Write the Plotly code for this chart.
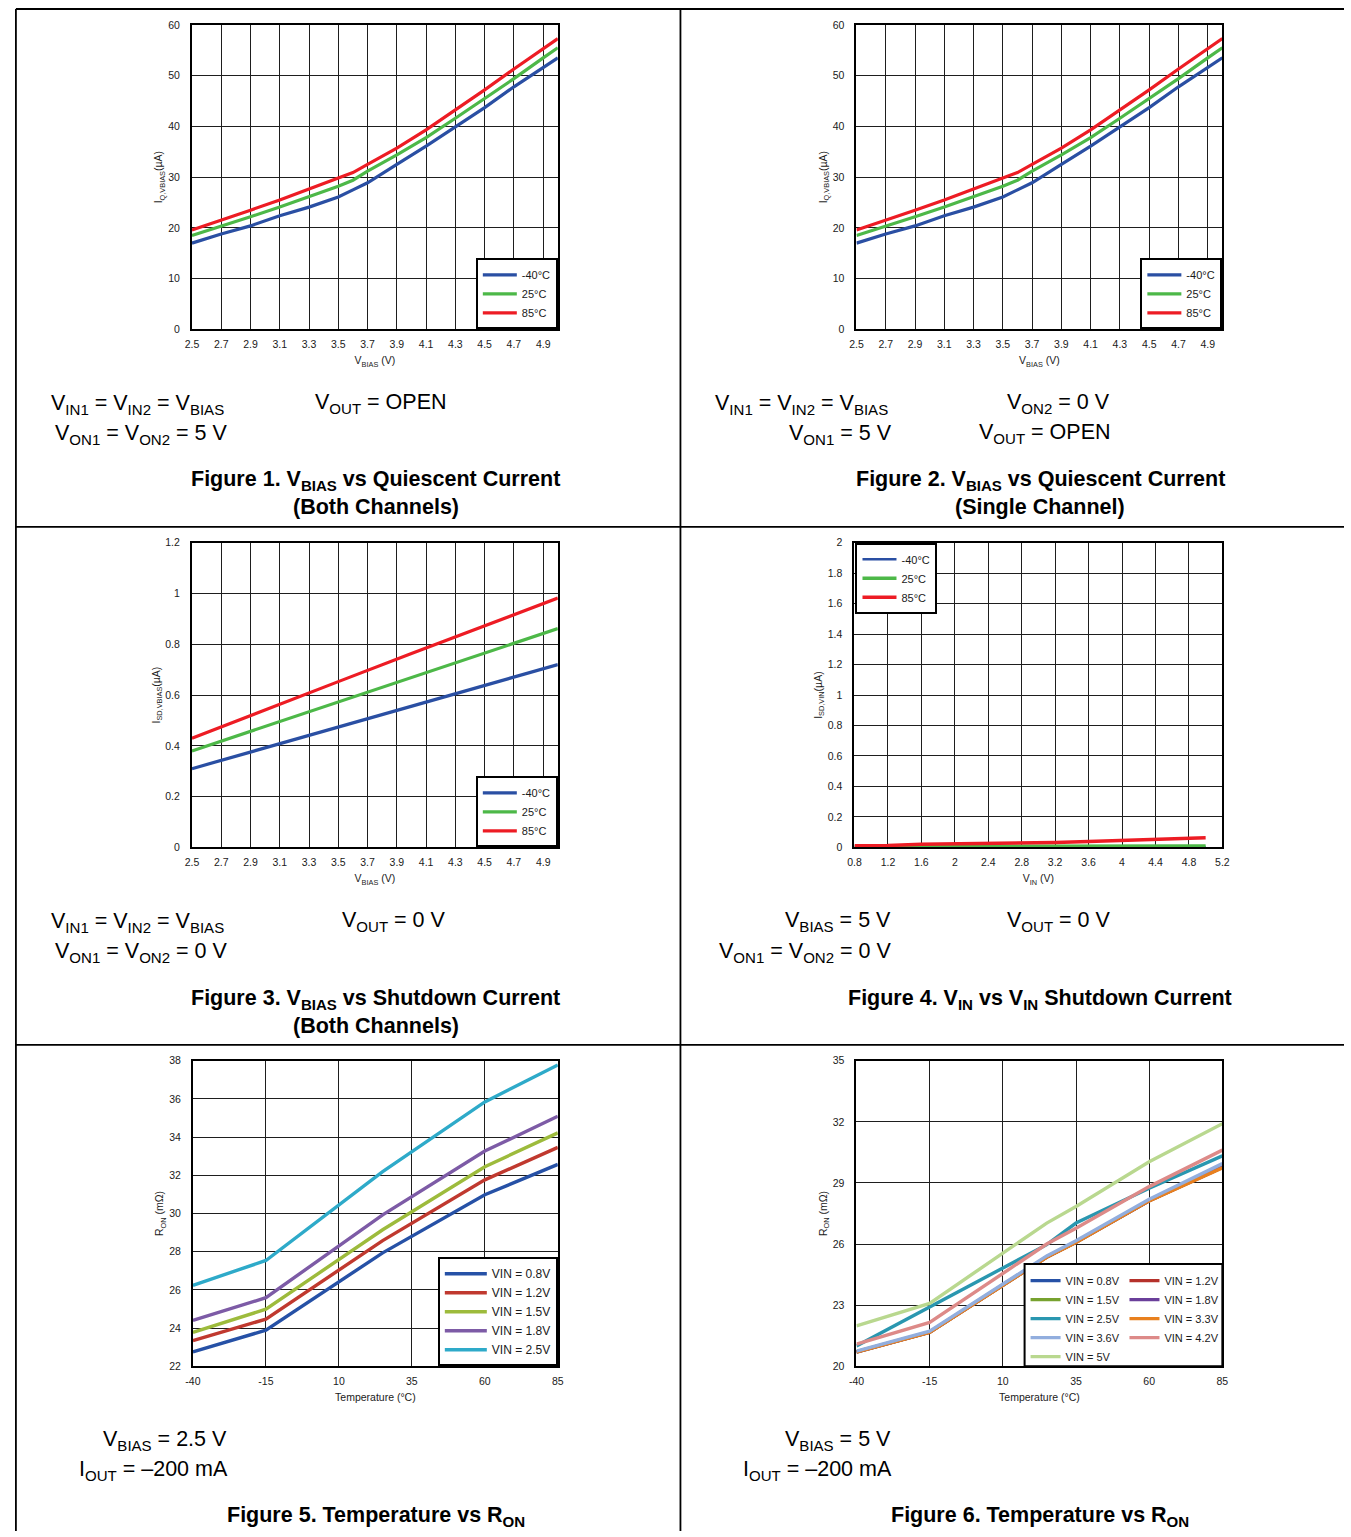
import plotly.graph_objects as go

W, H = 1351, 1537
FONT = "Liberation Sans, Arial, Helvetica, sans-serif"

# ---------------- data ----------------
temp_names = ["-40°C", "25°C", "85°C"]

# Figure 1 / Figure 2 : VBIAS vs quiescent current (uA)
vbias_q = [2.5, 2.7, 2.9, 3.1, 3.3, 3.5, 3.6, 3.7, 3.9, 4.1, 4.3, 4.5, 4.7, 4.9, 5.0]
iq_m40 = [17.0, 18.8, 20.4, 22.4, 24.1, 26.1, 27.5, 28.9, 32.5, 36.1, 39.9, 43.7, 47.8, 51.7, 53.5]
iq_25 = [18.5, 20.3, 22.2, 24.1, 26.1, 28.2, 29.4, 31.2, 34.4, 37.8, 41.6, 45.5, 49.4, 53.5, 55.5]
iq_85 = [19.6, 21.5, 23.5, 25.5, 27.6, 29.7, 30.9, 32.5, 35.7, 39.3, 43.2, 47.2, 51.3, 55.3, 57.3]

# Figure 3 : VBIAS vs shutdown current (uA)
vbias_sd = [2.5, 3.0, 3.5, 4.0, 4.5, 5.0]
isd_m40 = [0.31, 0.392, 0.474, 0.556, 0.638, 0.72]
isd_25 = [0.38, 0.476, 0.573, 0.669, 0.766, 0.862]
isd_85 = [0.43, 0.543, 0.653, 0.764, 0.873, 0.982]

# Figure 4 : VIN vs VIN shutdown current (uA)
vin_sd = [0.8, 1.2, 1.6, 2.0, 2.4, 2.8, 3.2, 3.6, 4.0, 4.4, 4.8, 5.0]
ivin_m40 = [0.002, 0.002, 0.002, 0.002, 0.002, 0.002, 0.002, 0.002, 0.003, 0.003, 0.003, 0.003]
ivin_25 = [0.005, 0.005, 0.006, 0.006, 0.006, 0.007, 0.007, 0.007, 0.008, 0.008, 0.009, 0.009]
ivin_85 = [0.010, 0.012, 0.020, 0.022, 0.024, 0.027, 0.032, 0.038, 0.045, 0.052, 0.060, 0.063]

# Figure 5 : temperature vs RON (mOhm), VBIAS = 2.5 V
temp5 = [-40, -15, 25, 60, 85]
ron5_names = ["VIN = 0.8V", "VIN = 1.2V", "VIN = 1.5V", "VIN = 1.8V", "VIN = 2.5V"]
ron5_0v8 = [22.76, 23.89, 27.94, 30.98, 32.57]
ron5_1v2 = [23.34, 24.47, 28.58, 31.76, 33.46]
ron5_1v5 = [23.77, 24.99, 29.15, 32.45, 34.22]
ron5_1v8 = [24.41, 25.59, 29.93, 33.27, 35.09]
ron5_2v5 = [26.24, 27.54, 32.19, 35.84, 37.78]

# Figure 6 : temperature vs RON (mOhm), VBIAS = 5 V
temp6 = [-40, -15, 25, 35, 60, 85]
ron6_names = ["VIN = 0.8V", "VIN = 1.2V", "VIN = 1.5V", "VIN = 1.8V", "VIN = 2.5V",
              "VIN = 3.3V", "VIN = 3.6V", "VIN = 4.2V", "VIN = 5V"]
ron6_0v8 = [20.70, 21.67, 25.36, 26.09, 28.13, 29.77]
ron6_1v2 = [20.71, 21.68, 25.36, 26.10, 28.13, 29.76]
ron6_1v5 = [20.72, 21.69, 25.38, 26.12, 28.15, 29.80]
ron6_1v8 = [20.71, 21.68, 25.37, 26.10, 28.14, 29.78]
ron6_2v5 = [21.00, 22.91, 25.97, 27.03, 28.74, 30.33]
ron6_3v3 = [20.70, 21.66, 25.35, 26.08, 28.12, 29.74]
ron6_3v6 = [20.75, 21.72, 25.42, 26.16, 28.20, 29.95]
ron6_4v2 = [21.09, 22.15, 26.00, 26.78, 28.82, 30.61]
ron6_5v0 = [21.98, 23.09, 27.03, 27.84, 30.04, 31.91]

temp_ticks = [-40, -15, 10, 35, 60, 85]
temp_ticktext = ["-40", "-15", "10", "35", "60", "85"]

# ---------------- styles ----------------
C_T = ["#2a4fa3", "#4db848", "#ed1c24"]
C5 = ["#2651a6", "#c0392f", "#9dbb3c", "#7d5ba6", "#2eaac9"]
C6 = ["#2651a6", "#b5312b", "#77a22f", "#6a3f9a", "#2a97b0",
      "#e8801e", "#92aede", "#dd8a88", "#b9d88f"]


def px(x):
    return x / W


def py(y):
    return 1 - y / H


fig = go.Figure()

for k, (ser, col) in enumerate(zip([iq_m40, iq_25, iq_85], C_T)):
    fig.add_trace(go.Scatter(x=vbias_q, y=ser, mode="lines", name=temp_names[k],
                             line=dict(color=col, width=3.2), xaxis="x", yaxis="y",
                             legend="legend", legendgroup="a%d" % k))
for k, (ser, col) in enumerate(zip([iq_m40, iq_25, iq_85], C_T)):
    fig.add_trace(go.Scatter(x=vbias_q, y=ser, mode="lines", name=temp_names[k],
                             line=dict(color=col, width=3.2), xaxis="x2", yaxis="y2",
                             legend="legend2", legendgroup="b%d" % k))
for k, (ser, col) in enumerate(zip([isd_m40, isd_25, isd_85], C_T)):
    fig.add_trace(go.Scatter(x=vbias_sd, y=ser, mode="lines", name=temp_names[k],
                             line=dict(color=col, width=3.2), xaxis="x3", yaxis="y3",
                             legend="legend3", legendgroup="c%d" % k))
for k, (ser, col) in enumerate(zip([ivin_m40, ivin_25, ivin_85], C_T)):
    w = 2.5 if k == 0 else 3.5
    fig.add_trace(go.Scatter(x=vin_sd, y=ser, mode="lines", name=temp_names[k],
                             line=dict(color=col, width=w), xaxis="x4", yaxis="y4",
                             legend="legend4", legendgroup="d%d" % k))
for k, ser in enumerate([ron5_0v8, ron5_1v2, ron5_1v5, ron5_1v8, ron5_2v5]):
    fig.add_trace(go.Scatter(x=temp5, y=ser, mode="lines", name=ron5_names[k],
                             line=dict(color=C5[k], width=3.4), xaxis="x5", yaxis="y5",
                             legend="legend5", legendgroup="e%d" % k))
ron6_all = [ron6_0v8, ron6_1v2, ron6_1v5, ron6_1v8, ron6_2v5, ron6_3v3, ron6_3v6, ron6_4v2, ron6_5v0]
col_a = {0, 2, 4, 6, 8}
for k, ser in enumerate(ron6_all):
    fig.add_trace(go.Scatter(x=temp6, y=ser, mode="lines", name=ron6_names[k],
                             line=dict(color=C6[k], width=3.4), xaxis="x6", yaxis="y6",
                             legend="legend6" if k in col_a else "legend7",
                             legendgroup="f%d" % k))


def axis_common(standoff):
    return dict(showline=True, linecolor="black", linewidth=2, mirror=True,
                showgrid=True, gridcolor="#1e1e1e", gridwidth=1, zeroline=False,
                ticks="", ticklabelstandoff=standoff,
                tickfont=dict(family=FONT, size=10.5, color="#1a1a1a"),
                title_font=dict(family=FONT, size=10.5, color="#1a1a1a"),
                fixedrange=True)


panels = [
    # (x0, x1, ytop, ybottom) in page pixels
    (186, 556, 19, 326),
    (858, 1228, 19, 326),
    (186, 556, 541, 848),
    (856, 1228, 541, 848),
    (187, 556, 1063, 1371),
    (858, 1228, 1063, 1371),
]

xspecs = [
    dict(range=[2.5, 5.0], tick0=2.5, dtick=0.2, title="V<sub>BIAS</sub> (V)"),
    dict(range=[2.5, 5.0], tick0=2.5, dtick=0.2, title="V<sub>BIAS</sub> (V)"),
    dict(range=[2.5, 5.0], tick0=2.5, dtick=0.2, title="V<sub>BIAS</sub> (V)"),
    dict(range=[0.8, 5.2], tick0=0.8, dtick=0.4, title="V<sub>IN</sub> (V)"),
    dict(range=[-40, 85], tickvals=temp_ticks, ticktext=temp_ticktext, title="Temperature (°C)"),
    dict(range=[-40, 85], tickvals=temp_ticks, ticktext=temp_ticktext, title="Temperature (°C)"),
]
yspecs = [
    dict(range=[0, 60], dtick=10, title="I<sub>Q,VBIAS</sub>(µA)"),
    dict(range=[0, 60], dtick=10, title="I<sub>Q,VBIAS</sub>(µA)"),
    dict(range=[0, 1.2], dtick=0.2, title="I<sub>SD,VBIAS</sub>(µA)"),
    dict(range=[0, 2], dtick=0.2, title="I<sub>SD,VIN</sub>(µA)"),
    dict(range=[22, 38], dtick=2, title="R<sub>ON</sub> (mΩ)"),
    dict(range=[20, 35], dtick=3, title="R<sub>ON</sub> (mΩ)"),
]

layout_axes = {}
for i, ((x0, x1, yt, yb), xs, ys) in enumerate(zip(panels, xspecs, yspecs)):
    n = "" if i == 0 else str(i + 1)
    xa = axis_common(4)
    xa.update(domain=[px(x0), px(x1)], anchor="y" + n, range=xs["range"],
              title=dict(text=xs["title"], standoff=8))
    if "tickvals" in xs:
        xa.update(tickmode="array", tickvals=xs["tickvals"], ticktext=xs["ticktext"])
    else:
        xa.update(tick0=xs["tick0"], dtick=xs["dtick"])
    ya = axis_common(8)
    ya.update(domain=[py(yb), py(yt)], anchor="x" + n, range=ys["range"],
              dtick=ys["dtick"], tick0=ys["range"][0],
              title=dict(text=ys["title"], standoff=3))
    layout_axes["xaxis" + n] = xa
    layout_axes["yaxis" + n] = ya


def legend_box(x, y, xanchor, yanchor, size, gap, border=True, itemwidth=30):
    return dict(x=x, y=y, xanchor=xanchor, yanchor=yanchor, xref="paper", yref="paper",
                font=dict(family=FONT, size=size, color="#1a1a1a"),
                itemwidth=itemwidth, tracegroupgap=gap, traceorder="normal",
                bgcolor="white" if border else "rgba(0,0,0,0)",
                bordercolor="black", borderwidth=2 if border else 0)


legends = dict(
    legend=legend_box(px(556), py(326), "right", "bottom", 11, 0, itemwidth=34),
    legend2=legend_box(px(1228), py(326), "right", "bottom", 11, 0, itemwidth=34),
    legend3=legend_box(px(556), py(848), "right", "bottom", 11, 0, itemwidth=34),
    legend4=legend_box(px(857), py(541), "left", "top", 11, 0, itemwidth=34),
    legend5=legend_box(px(556), py(1371), "right", "bottom", 12, 3, itemwidth=42),
    legend6=legend_box(px(1029), py(1270), "left", "top", 11, 0, border=False),
    legend7=legend_box(px(1129), py(1270), "left", "top", 11, 0, border=False),
)

shapes = []
# table frame
frame_lines = [
    (8, 3, 1351, 3), (8, 3, 8, 1537), (680, 3, 680, 1537),
    (8, 525, 1351, 525), (8, 1047, 1351, 1047),
]
for (xa_, ya_, xb_, yb_) in frame_lines:
    shapes.append(dict(type="line", xref="paper", yref="paper",
                       x0=px(xa_), y0=py(ya_), x1=px(xb_), y1=py(yb_),
                       line=dict(color="black", width=1.8)))
# legend box of figure 6 (shared by its two legend columns)
shapes.append(dict(type="rect", xref="paper", yref="paper", layer="above",
                   x0=px(1028), x1=px(1228), y0=py(1371), y1=py(1268),
                   fillcolor="white", line=dict(color="black", width=2)))

COND = 21.5
CAP = 21.5
texts = [
    # text, x, y, anchor, bold  (page pixels)
    ("V<sub>IN1</sub> = V<sub>IN2</sub> = V<sub>BIAS</sub>", 41, 402, "left", False),
    ("V<sub>ON1</sub> = V<sub>ON2</sub> = 5 V", 45, 432, "left", False),
    ("V<sub>OUT</sub> = OPEN", 308, 401, "left", False),
    ("Figure 1. V<sub>BIAS</sub> vs Quiescent Current", 372, 478, "center", True),
    ("(Both Channels)", 372, 505, "center", True),

    ("V<sub>IN1</sub> = V<sub>IN2</sub> = V<sub>BIAS</sub>", 713, 402, "left", False),
    ("V<sub>ON1</sub> = 5 V", 788, 432, "left", False),
    ("V<sub>ON2</sub> = 0 V", 1008, 401, "left", False),
    ("V<sub>OUT</sub> = OPEN", 980, 431, "left", False),
    ("Figure 2. V<sub>BIAS</sub> vs Quiescent Current", 1044, 478, "center", True),
    ("(Single Channel)", 1044, 505, "center", True),

    ("V<sub>IN1</sub> = V<sub>IN2</sub> = V<sub>BIAS</sub>", 41, 924, "left", False),
    ("V<sub>ON1</sub> = V<sub>ON2</sub> = 0 V", 45, 954, "left", False),
    ("V<sub>OUT</sub> = 0 V", 336, 923, "left", False),
    ("Figure 3. V<sub>BIAS</sub> vs Shutdown Current", 372, 1001, "center", True),
    ("(Both Channels)", 372, 1028, "center", True),

    ("V<sub>BIAS</sub> = 5 V", 784, 923, "left", False),
    ("V<sub>ON1</sub> = V<sub>ON2</sub> = 0 V", 717, 954, "left", False),
    ("V<sub>OUT</sub> = 0 V", 1008, 923, "left", False),
    ("Figure 4. V<sub>IN</sub> vs V<sub>IN</sub> Shutdown Current", 1044, 1001, "center", True),

    ("V<sub>BIAS</sub> = 2.5 V", 94, 1446, "left", False),
    ("I<sub>OUT</sub> = –200 mA", 70, 1476, "left", False),
    ("Figure 5. Temperature vs R<sub>ON</sub>", 372, 1522, "center", True),

    ("V<sub>BIAS</sub> = 5 V", 784, 1446, "left", False),
    ("I<sub>OUT</sub> = –200 mA", 741, 1476, "left", False),
    ("Figure 6. Temperature vs R<sub>ON</sub>", 1044, 1522, "center", True),
]
annotations = []
for (t, x, y, anc, bold) in texts:
    annotations.append(dict(
        text="<b>%s</b>" % t if bold else t, xref="paper", yref="paper",
        x=px(x), y=py(y), xanchor=anc, yanchor="middle", showarrow=False,
        font=dict(family=FONT, size=CAP if bold else COND, color="black")))

fig.update_layout(
    width=W, height=H, autosize=False,
    margin=dict(l=0, r=0, t=0, b=0),
    paper_bgcolor="white", plot_bgcolor="white",
    font=dict(family=FONT, color="black"),
    showlegend=True,
    shapes=shapes, annotations=annotations,
    **layout_axes, **legends,
)

fig.write_html("out.html", config={"displayModeBar": False},
               post_script="document.body.style.margin='0';")
